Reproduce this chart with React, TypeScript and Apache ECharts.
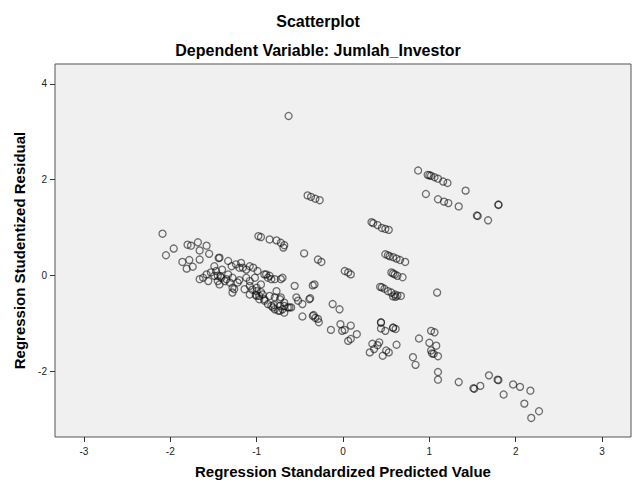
import React, { useEffect, useRef } from "react";
import * as echarts from "echarts";

// Regression Standardized Predicted Value (x) vs Regression Studentized Residual (y)
const isolatedTop = [[-0.63, 3.33]];

const clusterNeg04 = [[-0.41, 1.67], [-0.37, 1.64], [-0.32, 1.6], [-0.27, 1.57]];

const upperRight = [
  [0.87, 2.19], [0.98, 2.1], [1.0, 2.09], [1.02, 2.08], [1.06, 2.05], [1.1, 2.02], [1.16, 1.96], [1.21, 1.93], [1.42, 1.77],
  [0.96, 1.7], [1.1, 1.59], [1.17, 1.54], [1.22, 1.51], [1.34, 1.44], [1.55, 1.25], [1.56, 1.24], [1.68, 1.15], [1.8, 1.48], [1.8, 1.47],
];

const midColumns = [
  [0.33, 1.11], [0.35, 1.09], [0.4, 1.05], [0.45, 0.99], [0.49, 0.97], [0.53, 0.95],
  [0.49, 0.44], [0.52, 0.42], [0.54, 0.4], [0.58, 0.38], [0.62, 0.35], [0.66, 0.32], [0.72, 0.28],
  [0.56, 0.06], [0.58, 0.04], [0.6, 0.02], [0.63, -0.01], [0.69, -0.04],
  [0.43, -0.24], [0.45, -0.25], [0.48, -0.28], [0.52, -0.33], [0.56, -0.36], [0.58, -0.44], [0.6, -0.4], [0.63, -0.42], [0.67, -0.43], [0.61, -0.45],
  [1.09, -0.36],
];

const nearZero = [[0.02, 0.09], [0.06, 0.06], [0.09, 0.02], [-0.29, 0.33], [-0.25, 0.28], [-0.45, 0.46]];

const upperLeftRun = [[-0.98, 0.82], [-0.95, 0.8], [-0.85, 0.75], [-0.77, 0.73], [-0.72, 0.68], [-0.68, 0.63], [-0.69, 0.58]];

const leftEdge = [
  [-2.09, 0.87], [-1.96, 0.56], [-2.05, 0.42], [-1.8, 0.64], [-1.76, 0.62], [-1.68, 0.69], [-1.66, 0.52], [-1.58, 0.62],
  [-1.55, 0.45], [-1.66, 0.33], [-1.86, 0.28], [-1.78, 0.32], [-1.74, 0.18], [-1.81, 0.14], [-1.44, 0.36], [-1.43, 0.37], [-1.33, 0.3],
];

const denseBand = [
  [-1.66, -0.08], [-1.62, -0.05], [-1.56, -0.12], [-1.53, 0.06], [-1.49, 0.19], [-1.45, -0.01], [-1.41, -0.05], [-1.4, 0.12],
  [-1.37, -0.12], [-1.31, -0.15], [-1.28, -0.26], [-1.26, -0.29], [-1.29, 0.19], [-1.24, 0.23], [-1.2, 0.16], [-1.18, 0.26],
  [-1.12, 0.12], [-1.08, 0.19], [-1.04, 0.16], [-1.12, -0.05], [-1.08, -0.12], [-1.08, -0.22], [-1.0, -0.26], [-1.0, -0.43],
  [-0.97, -0.5], [-0.93, -0.4], [-0.91, -0.53], [-0.87, -0.6], [-0.89, 0.02], [-0.85, -0.01], [-0.83, -0.08], [-0.79, -0.08],
  [-0.77, -0.33], [-0.72, -0.08], [-0.72, -0.46], [-0.73, -0.64], [-0.7, -0.71], [-0.75, -0.74], [-0.81, -0.67], [-0.68, -0.57],
  [-0.62, -0.67], [-1.58, 0.02], [-1.47, 0.09], [-1.33, 0.02], [-1.16, 0.16], [-1.22, -0.15], [-1.45, -0.12], [-1.49, -0.01],
  [-1.43, -0.19], [-1.28, -0.05], [-1.02, -0.05], [-1.14, -0.29], [-1.0, -0.33], [-1.08, -0.4], [-1.28, -0.36], [-0.99, 0.09],
  [-0.91, 0.02], [-0.87, -0.05], [-0.7, -0.05], [-0.95, -0.19], [-0.97, -0.43], [-0.91, -0.5], [-0.85, -0.43], [-0.79, -0.46],
  [-0.73, -0.5], [-0.83, -0.64], [-0.79, -0.71], [-0.73, -0.74], [-0.68, -0.64], [-0.64, -0.67], [-0.68, -0.78], [-0.6, -0.67],
  [-1.42, -0.02], [-1.01, -0.41], [-0.8, -0.62], [-1.35, -0.08], [-1.05, -0.3], [-0.95, -0.35], [-1.2, -0.1],
];

const lowerMid = [
  [-0.56, -0.22], [-0.54, -0.46], [-0.52, -0.53], [-0.47, -0.6], [-0.39, -0.5], [-0.38, -0.48], [-0.35, -0.21], [-0.33, -0.19],
  [-0.47, -0.86], [-0.35, -0.85], [-0.34, -0.83], [-0.32, -0.89], [-0.29, -0.91], [-0.28, -0.98], [-0.12, -0.6], [-0.04, -0.71],
  [-0.14, -1.14], [-0.03, -1.02], [-0.01, -1.16], [0.02, -1.14], [0.09, -1.05], [0.16, -1.23], [0.09, -1.33], [0.06, -1.37],
];

const lowerRight = [
  [0.44, -0.98], [0.44, -0.99], [0.44, -1.11], [0.49, -1.16], [0.58, -1.09], [0.58, -1.1], [0.61, -1.12], [1.02, -1.16], [1.06, -1.19],
  [0.88, -1.32], [0.62, -1.45], [0.34, -1.43], [0.4, -1.46], [0.42, -1.4], [0.36, -1.54], [0.31, -1.61], [0.5, -1.57],
  [0.53, -1.61], [0.46, -1.68], [1.0, -1.41], [1.08, -1.47], [1.02, -1.57], [1.03, -1.63], [1.05, -1.64], [1.1, -1.69],
  [0.81, -1.71], [0.84, -1.87], [1.1, -2.02], [1.1, -2.18], [1.34, -2.23], [1.51, -2.36], [1.52, -2.37], [1.59, -2.31],
  [1.69, -2.09], [1.79, -2.18], [1.8, -2.19], [1.86, -2.49], [1.97, -2.28], [2.05, -2.33], [2.17, -2.41], [2.1, -2.68],
  [2.27, -2.84], [2.18, -2.98],
];

const xTicks = [-3, -2, -1, 0, 1, 2, 3];
const yTicks = [-2, 0, 2, 4];

const titleText = "Scatterplot";
const subtitleText = "Dependent Variable: Jumlah_Investor";
const xName = "Regression Standardized Predicted Value";
const yName = "Regression Studentized Residual";

const FONT = "'Liberation Sans', Arial, sans-serif";

export default function App() {
  const ref = useRef<HTMLDivElement>(null);
  useEffect(() => {
    document.body.style.margin = "0";
    if (!ref.current) return;
    const chart = echarts.init(ref.current, null, { renderer: "svg" });
    const allPoints = [
      ...isolatedTop, ...clusterNeg04, ...upperRight, ...midColumns, ...nearZero,
      ...upperLeftRun, ...leftEdge, ...denseBand, ...lowerMid, ...lowerRight,
    ];
    chart.setOption({
      animation: false,
      backgroundColor: "#ffffff",
      graphic: [
        {
          type: "text", x: 318, y: 21,
          style: { text: titleText, font: `bold 16px ${FONT}`, fill: "#000", textAlign: "center", textVerticalAlign: "middle" },
        },
        {
          type: "text", x: 318, y: 50,
          style: { text: subtitleText, font: `bold 16px ${FONT}`, fill: "#000", textAlign: "center", textVerticalAlign: "middle" },
        },
      ],
      grid: {
        left: 55, right: 2, top: 64, bottom: 45,
        show: true, backgroundColor: "#f0f0f0", borderColor: "#555555", borderWidth: 1,
      },
      xAxis: {
        type: "value",
        position: "bottom",
        min: -3.335, max: 3.335,
        name: xName, nameLocation: "middle", nameGap: 27,
        nameTextStyle: { fontFamily: FONT, fontSize: 15, fontWeight: "bold", color: "#000" },
        axisLine: { show: false, onZero: false },
        axisTick: { show: true, length: 5, lineStyle: { color: "#333" }, customValues: xTicks },
        axisLabel: { fontFamily: FONT, fontSize: 10, color: "#222", margin: 9, customValues: xTicks },
        splitLine: { show: false },
      },
      yAxis: {
        type: "value",
        position: "left",
        min: -3.378, max: 4.416,
        name: yName, nameLocation: "middle", nameGap: 28,
        nameTextStyle: { fontFamily: FONT, fontSize: 15, fontWeight: "bold", color: "#000" },
        axisLine: { show: false, onZero: false },
        axisTick: { show: true, length: 5, lineStyle: { color: "#333" }, customValues: yTicks },
        axisLabel: { fontFamily: FONT, fontSize: 10, color: "#222", margin: 8, customValues: yTicks },
        splitLine: { show: false },
      },
      series: [
        {
          type: "scatter",
          data: allPoints,
          symbol: "circle",
          symbolSize: 7,
          itemStyle: { color: "rgba(0,0,0,0)", borderColor: "rgba(10,10,10,0.72)", borderWidth: 1.3 },
          silent: true,
        },
      ],
    });
    return () => chart.dispose();
  }, []);
  return <div ref={ref} style={{ width: 633, height: 484 }} />;
}
